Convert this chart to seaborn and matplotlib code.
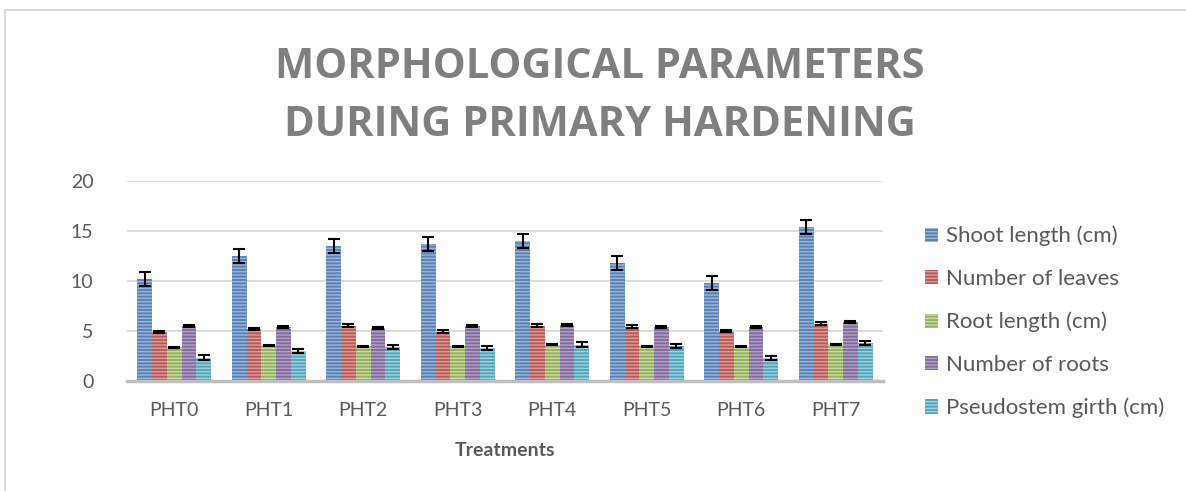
import pandas as pd
import numpy as np
import matplotlib
matplotlib.use("Agg")
import matplotlib.pyplot as plt
import seaborn as sns
from matplotlib.patches import Rectangle

# DATA
treatments = ["PHT0", "PHT1", "PHT2", "PHT3", "PHT4", "PHT5", "PHT6", "PHT7"]
parameters = ["Shoot length (cm)", "Number of leaves", "Root length (cm)",
              "Number of roots", "Pseudostem girth (cm)"]

shoot_length = [10.2, 12.5, 13.5, 13.7, 14.0, 11.8, 9.8, 15.4]
number_of_leaves = [4.9, 5.2, 5.55, 4.95, 5.55, 5.45, 5.0, 5.75]
root_length = [3.4, 3.6, 3.5, 3.5, 3.65, 3.5, 3.45, 3.7]
number_of_roots = [5.5, 5.4, 5.35, 5.5, 5.6, 5.4, 5.4, 5.9]
pseudostem_girth = [2.35, 3.0, 3.45, 3.3, 3.65, 3.55, 2.35, 3.85]

shoot_err = [0.7, 0.7, 0.7, 0.7, 0.7, 0.7, 0.7, 0.7]
leaves_err = [0.12, 0.12, 0.12, 0.12, 0.12, 0.12, 0.12, 0.12]
root_len_err = [0.05, 0.05, 0.05, 0.05, 0.05, 0.05, 0.05, 0.05]
roots_err = [0.1, 0.1, 0.1, 0.1, 0.1, 0.1, 0.1, 0.1]
girth_err = [0.22, 0.2, 0.2, 0.2, 0.22, 0.2, 0.2, 0.2]

values = [shoot_length, number_of_leaves, root_length, number_of_roots, pseudostem_girth]
errors = [shoot_err, leaves_err, root_len_err, roots_err, girth_err]

# long format table for seaborn
rows = []
for p, vals in zip(parameters, values):
    for t, v in zip(treatments, vals):
        rows.append({"Treatment": t, "Parameter": p, "Value": v})
df = pd.DataFrame(rows)

colors = ["#4F81BD", "#C0504D", "#9BBB59", "#8064A2", "#4BACC6"]
stripes = ["#95B6E2", "#E29896", "#C9DDA2", "#B2A0CA", "#97D4E6"]

sns.set_style("white")
plt.rcParams["font.family"] = ["Lato", "DejaVu Sans"]
plt.rcParams["hatch.linewidth"] = 1.0

fig = plt.figure(figsize=(11.86, 4.91), dpi=100)
ax = fig.add_axes([0.107, 0.224, 0.6375, 0.407])

sns.barplot(data=df, x="Treatment", y="Value", hue="Parameter",
            order=treatments, hue_order=parameters, palette=colors,
            width=0.78, errorbar=None, legend=False, ax=ax)

bar_groups = list(ax.containers)

# stripes + error bars
for container, stripe, errs in zip(bar_groups, stripes, errors):
    xs, hs = [], []
    for bar in container.patches:
        bar.set_hatch("-----")
        bar.set_edgecolor(stripe)
        bar.set_linewidth(0)
        xs.append(bar.get_x() + bar.get_width() / 2)
        hs.append(bar.get_height())
    ax.errorbar(xs, hs, yerr=errs, fmt="none", ecolor="black",
                elinewidth=1.5, capsize=4.5, capthick=1.5, zorder=5)

ax.set_ylim(0, 20)
ax.set_yticks([0, 5, 10, 15, 20])
ax.set_xlim(-0.5, len(treatments) - 0.5)
ax.yaxis.grid(True, color="#D9D9D9", linewidth=1.3)
ax.set_axisbelow(True)
for s in ["top", "right", "left"]:
    ax.spines[s].set_visible(False)
ax.spines["bottom"].set_color("#BFBFBF")
ax.spines["bottom"].set_linewidth(2.5)
ax.tick_params(axis="both", length=0, labelsize=14, colors="#595959")
ax.tick_params(axis="x", pad=15)
ax.tick_params(axis="y", pad=24)
ax.set_ylabel("")
ax.set_xlabel("Treatments", fontsize=14, fontweight="bold", color="#595959", labelpad=17)

handles = [c.patches[0] for c in bar_groups]
leg = fig.legend(handles=handles, labels=parameters, loc="center left",
                 bbox_to_anchor=(0.763, 0.344), frameon=False, fontsize=16,
                 handlelength=0.6, handleheight=0.6, handletextpad=0.35,
                 labelspacing=1.02)
for t in leg.get_texts():
    t.set_color("#595959")

fig.text(0.506, 0.862, "MORPHOLOGICAL PARAMETERS", ha="center", va="center",
         fontsize=30, fontweight="bold", color="#7F7F7F", family="Open Sans")
fig.text(0.506, 0.744, "DURING PRIMARY HARDENING", ha="center", va="center",
         fontsize=30, fontweight="bold", color="#7F7F7F", family="Open Sans")

# chart frame (only top/left edges fall inside the image)
fig.patches.append(Rectangle((5 / 1186, -0.1), 1.2, 1 - 10 / 491 + 0.1,
                             transform=fig.transFigure, fill=False,
                             edgecolor="#D9D9D9", linewidth=1.5))

fig.savefig("out.png", dpi=100)
